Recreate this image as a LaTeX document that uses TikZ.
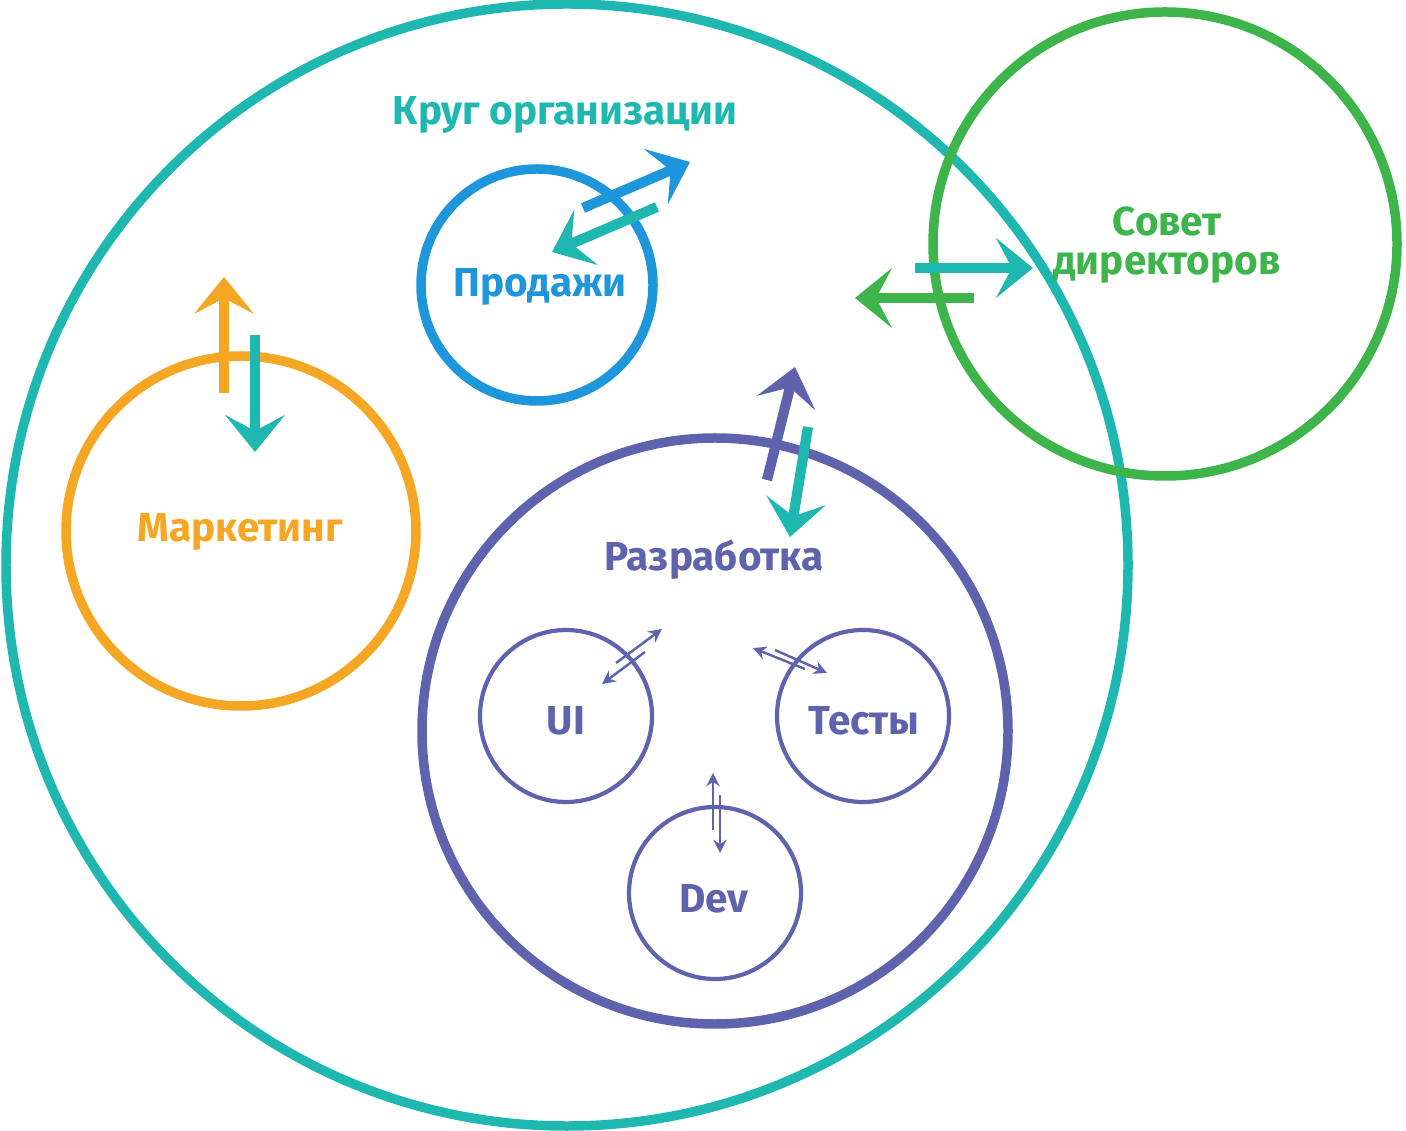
\documentclass[tikz,border=0pt]{standalone}
\usepackage{fontspec}
\setmainfont{Fira Sans}
\usetikzlibrary{arrows.meta}
\definecolor{cteal}{HTML}{1FB8B1}
\definecolor{cgreen}{HTML}{3DB54A}
\definecolor{cblue}{HTML}{1E96DC}
\definecolor{corange}{HTML}{F5A623}
\definecolor{cpurple}{HTML}{5F63AE}
\begin{document}
\begin{tikzpicture}[x=0.01cm,y=-0.01cm,
  ring/.style={draw=#1,line width=2.7pt},
  smallring/.style={draw=cpurple,line width=1.2pt},
  lbl/.style={font=\bfseries\fontsize{11.5}{13}\selectfont,text=#1,align=center},
  bigarrow/.style={draw=#1,line width=2.9pt,-{Stealth[length=10.5pt,width=17pt,inset=4.5pt]}},
  tinyarrow/.style={draw=cpurple,line width=0.7pt,-{Stealth[length=3.8pt,width=3.8pt,inset=1.3pt]}}]
\useasboundingbox (0,0) rectangle (1406,1131);
% circles
\draw[ring=cteal] (567,565) circle [radius=561];
\draw[ring=cgreen] (1165,244) circle [radius=232];
\draw[ring=cblue] (537,285) circle [radius=116];
\draw[ring=corange] (241,531) circle [radius=175];
\draw[ring=cpurple] (715,731) circle [radius=293];
\draw[smallring] (566,716) circle [radius=86];
\draw[smallring] (863,716) circle [radius=86];
\draw[smallring] (715,893) circle [radius=86];
% labels
\node[lbl=cteal] (org) at (565,115) {Круг организации};
\node[lbl=cgreen] (board) at (1167,245) {Совет\\[-2pt]директоров};
\node[lbl=cblue] (sales) at (540,287) {Продажи};
\node[lbl=corange] (mkt) at (240,532) {Маркетинг};
\node[lbl=cpurple] (dev) at (714,560) {Разработка};
\node[lbl=cpurple] (ui) at (566,721) {UI};
\node[lbl=cpurple] (tests) at (864,721) {Тесты};
\node[lbl=cpurple] (devs) at (714,899) {Dev};
% arrow endpoints
\coordinate (s1a) at (583,208); \coordinate (s1b) at (690,162);
\coordinate (s2a) at (657,207); \coordinate (s2b) at (552,252);
\coordinate (m1a) at (224,393); \coordinate (m1b) at (224,277);
\coordinate (m2a) at (255,335); \coordinate (m2b) at (255,452);
\coordinate (r1a) at (767,480); \coordinate (r1b) at (795,367);
\coordinate (r2a) at (808,427); \coordinate (r2b) at (790,537);
\coordinate (b1a) at (915,268); \coordinate (b1b) at (1033,268);
\coordinate (b2a) at (974,298); \coordinate (b2b) at (855,298);
\coordinate (u1a) at (645,652); \coordinate (u1b) at (602,684);
\coordinate (u2a) at (616,663); \coordinate (u2b) at (662,629);
\coordinate (t1a) at (805,669); \coordinate (t1b) at (753,648);
\coordinate (t2a) at (775,650); \coordinate (t2b) at (827,673);
\coordinate (d1a) at (713,830); \coordinate (d1b) at (713,773);
\coordinate (d2a) at (720,795); \coordinate (d2b) at (720,853);
% arrows
\draw[bigarrow=cblue] (s1a) -- (s1b);
\draw[bigarrow=cteal] (s2a) -- (s2b);
\draw[bigarrow=corange] (m1a) -- (m1b);
\draw[bigarrow=cteal] (m2a) -- (m2b);
\draw[bigarrow=cpurple] (r1a) -- (r1b);
\draw[bigarrow=cteal] (r2a) -- (r2b);
\draw[bigarrow=cteal] (b1a) -- (b1b);
\draw[bigarrow=cgreen] (b2a) -- (b2b);
\draw[tinyarrow] (u1a) -- (u1b);
\draw[tinyarrow] (u2a) -- (u2b);
\draw[tinyarrow] (t1a) -- (t1b);
\draw[tinyarrow] (t2a) -- (t2b);
\draw[tinyarrow] (d1a) -- (d1b);
\draw[tinyarrow] (d2a) -- (d2b);
\end{tikzpicture}
\end{document}
